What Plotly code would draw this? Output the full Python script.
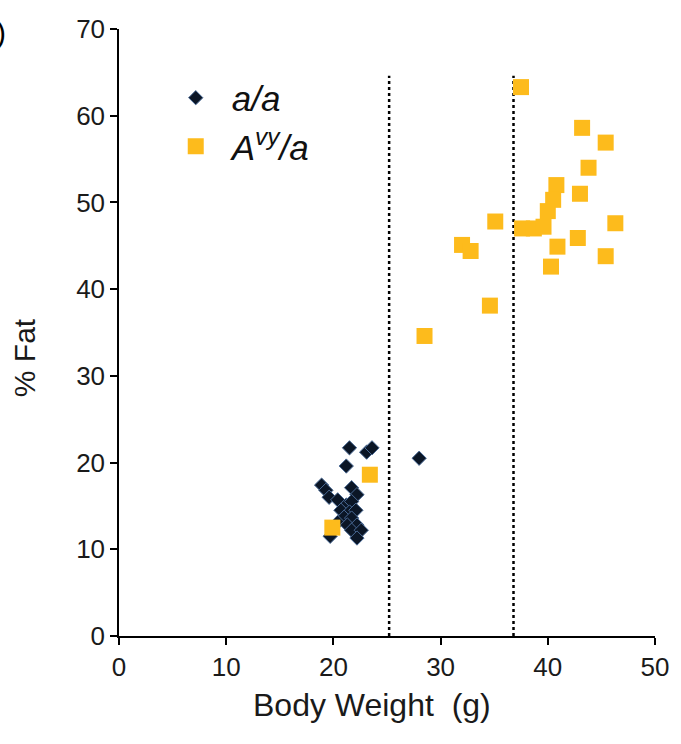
import plotly.graph_objects as go

# a/a (black diamonds)
aa_weight = [21.5, 23.1, 23.6, 21.2, 28.0, 18.9, 19.3, 19.6, 21.7, 22.2, 20.4, 21.2, 21.7,
             20.7, 21.5, 22.1, 21.0, 21.7, 20.4, 21.3, 22.2, 21.7, 22.6, 22.2, 19.7]
aa_fat = [21.7, 21.2, 21.7, 19.6, 20.5, 17.4, 16.8, 16.0, 17.1, 16.3, 15.7, 15.1, 15.5,
          14.5, 14.3, 14.5, 13.7, 13.6, 13.1, 12.8, 12.8, 12.2, 12.2, 11.3, 11.5]

# Avy/a (yellow squares)
avy_weight = [37.5, 43.2, 45.4, 43.8, 40.8, 43.0, 40.5, 40.0, 35.1, 46.3, 37.6, 38.7, 39.6,
              32.0, 32.8, 42.8, 40.9, 45.4, 40.3, 34.6, 28.5, 23.4, 19.9]
avy_fat = [63.3, 58.6, 56.9, 54.0, 52.0, 51.0, 50.3, 49.0, 47.8, 47.6, 47.0, 47.0, 47.2,
           45.1, 44.4, 45.9, 44.9, 43.8, 42.6, 38.1, 34.6, 18.6, 12.5]

# dotted threshold lines (body weight, g) and their top
thresholds = [25.2, 36.8]
threshold_top = 64.6

x_ticks = [0, 10, 20, 30, 40, 50]
y_ticks = [0, 10, 20, 30, 40, 50, 60, 70]

FONT = "Liberation Sans, Arial, sans-serif"

fig = go.Figure()
fig.add_trace(go.Scatter(
    x=aa_weight, y=aa_fat, mode="markers", name="<i>a/a</i>",
    legendgroup="aa",
    marker=dict(symbol="diamond", size=11, color="#0b1626",
                line=dict(color="#4a6a95", width=1)),
))
fig.add_trace(go.Scatter(
    x=avy_weight, y=avy_fat, mode="markers", name="<i>A<sup>vy</sup>/a</i>",
    legendgroup="avy",
    marker=dict(symbol="square", size=16, color="#FDBB1C", line=dict(width=0)),
))

for t in thresholds:
    fig.add_shape(type="line", x0=t, x1=t, y0=0, y1=threshold_top, xref="x", yref="y",
                  line=dict(color="black", width=2.5, dash="dot"), layer="below")

# panel label (cropped in the original)
fig.add_annotation(text=")", xref="paper", yref="paper", x=-0.208, y=0.995,
                   xanchor="right", yanchor="middle", showarrow=False,
                   font=dict(size=30, color="black", family=FONT))
# axis titles
fig.add_annotation(text="Body Weight  (g)", xref="paper", yref="paper", x=0.472, y=-0.1137,
                   xanchor="center", yanchor="middle", showarrow=False,
                   font=dict(size=32, color="#1a1a1a", family=FONT))
fig.add_annotation(text="% Fat", xref="paper", yref="paper", x=-0.175, y=0.458,
                   xanchor="center", yanchor="middle", showarrow=False, textangle=-90,
                   font=dict(size=30, color="#1a1a1a", family=FONT))

axis_common = dict(
    showline=True, linecolor="black", linewidth=1.5,
    ticks="outside", ticklen=7, tickwidth=1.5, tickcolor="black",
    showgrid=False, zeroline=False,
    tickfont=dict(size=26, color="#1a1a1a", family=FONT),
)

fig.update_layout(
    width=681, height=744,
    margin=dict(l=119, r=24, t=29, b=108),
    paper_bgcolor="white", plot_bgcolor="white",
    font=dict(family=FONT, color="#1a1a1a"),
    showlegend=True,
    legend=dict(x=0.076, y=0.935, xanchor="left", yanchor="top",
                font=dict(size=35, color="#111", family=FONT),
                bgcolor="rgba(0,0,0,0)", tracegroupgap=9, traceorder="normal",
                itemwidth=62),
    xaxis=dict(range=[0, 50], tickvals=x_ticks, ticktext=[str(v) for v in x_ticks],
               **axis_common),
    yaxis=dict(range=[0, 70], tickvals=y_ticks, ticktext=[str(v) for v in y_ticks],
               **axis_common),
)

fig.write_html("out.html", config={"displayModeBar": False},
               post_script="document.body.style.margin='0';")
